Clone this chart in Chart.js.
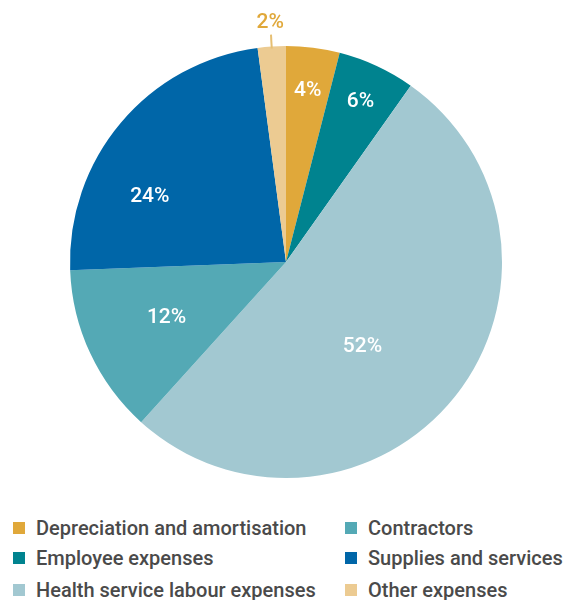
<!DOCTYPE html>
<html>
<head>
<meta charset="utf-8">
<script src="https://cdn.jsdelivr.net/npm/chart.js@4"></script>
<style>
  body { margin: 0; background: #fff; }
  #wrap { position: relative; width: 576px; height: 600px; }
  #chartBox { position: absolute; left: 0; top: 0; width: 576px; height: 500px; }
  #legend { position: absolute; left: 0; top: 514px; width: 576px; font-family: Roboto, "Open Sans", sans-serif; font-weight: 500; font-size: 20px; color: #4a4a4a; }
  .item { position: absolute; display: flex; align-items: center; white-space: nowrap; height: 28px; }
  .sw { width: 12px; height: 12px; margin-right: 11px; }
</style>
</head>
<body>
<div id="wrap">
  <div id="chartBox"><canvas id="pie"></canvas></div>
  <div id="legend"></div>
</div>
<script>
const categories = ['Depreciation and amortisation', 'Employee expenses', 'Health service labour expenses', 'Contractors', 'Supplies and services', 'Other expenses'];
const shares = [4.0, 5.8, 51.9, 12.7, 23.5, 2.1];
const valueLabels = ['4%', '6%', '52%', '12%', '24%', '2%'];
const colours = ['#e0a83a', '#00838f', '#a2c8d1', '#54a9b5', '#0066a8', '#eccb92'];

// where each percentage sits: fraction of radius, fraction along the slice's angle
const labelRadius = [0.80, 0.82, 0.53, 0.61, 0.70, 1.11];
const labelAlong = [0.5, 0.5, 0.55, 0.5, 0.33, 0.5];
const outsideLabel = [false, false, false, false, false, true];

const pieLabels = {
    id: 'pieLabels',
    afterDatasetsDraw(chart) {
        const ctx = chart.ctx;
        const arcs = chart.getDatasetMeta(0).data;
        ctx.save();
        ctx.textAlign = 'center';
        ctx.textBaseline = 'middle';
        ctx.font = '500 21px Roboto, "Open Sans", sans-serif';
        arcs.forEach(function (arc, i) {
            const a = arc.startAngle + (arc.endAngle - arc.startAngle) * labelAlong[i];
            const r = arc.outerRadius * labelRadius[i];
            const x = arc.x + Math.cos(a) * r;
            const y = arc.y + Math.sin(a) * r;
            if (outsideLabel[i]) {
                ctx.strokeStyle = '#e6bf73';
                ctx.lineWidth = 2;
                ctx.beginPath();
                ctx.moveTo(arc.x + Math.cos(a) * arc.outerRadius, arc.y + Math.sin(a) * arc.outerRadius + 2);
                ctx.lineTo(arc.x + Math.cos(a) * arc.outerRadius * 1.055, arc.y + Math.sin(a) * arc.outerRadius * 1.055);
                ctx.stroke();
                ctx.fillStyle = '#e0a83a';
            } else {
                ctx.fillStyle = '#ffffff';
            }
            ctx.fillText(valueLabels[i], x, y);
        });
        ctx.restore();
    }
};

new Chart(document.getElementById('pie').getContext('2d'), {
    type: 'pie',
    data: {
        labels: categories,
        datasets: [{
            data: shares,
            backgroundColor: colours,
            borderWidth: 0
        }]
    },
    options: {
        responsive: true,
        maintainAspectRatio: false,
        animation: false,
        layout: { padding: { left: 70, right: 74, top: 46, bottom: 22 } },
        plugins: {
            legend: { display: false },
            tooltip: { enabled: false }
        }
    },
    plugins: [pieLabels]
});

// legend laid out in two columns, top to bottom
const legend = document.getElementById('legend');
const colX = [13, 345];
const rowY = [0, 30, 62];
categories.forEach(function (name, i) {
    const col = Math.floor(i / 3);
    const row = i % 3;
    const el = document.createElement('div');
    el.className = 'item';
    el.style.left = colX[col] + 'px';
    el.style.top = rowY[row] + 'px';
    el.innerHTML = '<span class="sw" style="background:' + colours[i] + '"></span><span>' + name + '</span>';
    legend.appendChild(el);
});
</script>
</body>
</html>
